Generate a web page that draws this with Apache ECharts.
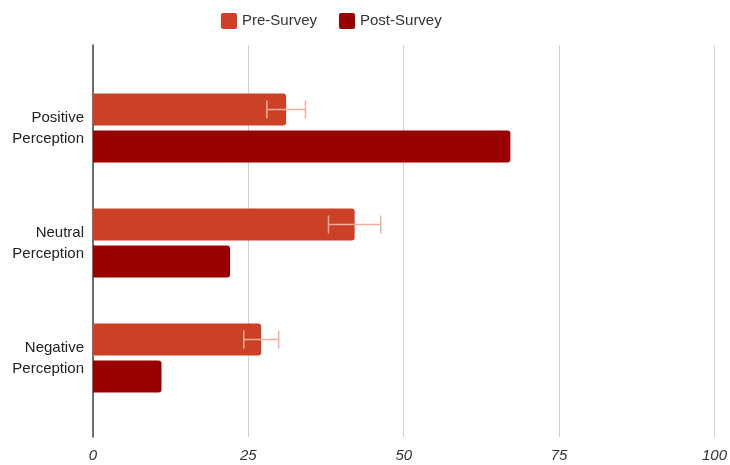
<!DOCTYPE html>
<html><head><meta charset="utf-8">
<script src="https://cdn.jsdelivr.net/npm/echarts@6/dist/echarts.min.js"></script>
<style>html,body{margin:0;padding:0;background:#fff}#c{width:730px;height:465px}</style>
</head><body><div id="c"></div>
<script>
const categories = ['Positive\nPerception', 'Neutral\nPerception', 'Negative\nPerception'];
const preSurvey = [31, 42, 27];
const postSurvey = [67, 22, 11];
const preError = [3.1, 4.2, 2.8];
const xTicks = [0, 25, 50, 75, 100];

const FONT = 'Liberation Sans, Arial, sans-serif';
const chart = echarts.init(document.getElementById('c'), null, {renderer: 'canvas'});
const errData = preSurvey.map((v, i) => [v, i, preError[i]]);
chart.setOption({
  animation: false,
  legend: {
    top: 8, left: 216, itemWidth: 16, itemHeight: 16, itemGap: 22,
    icon: 'path://M2,0 L14,0 Q16,0 16,2 L16,14 Q16,16 14,16 L2,16 Q0,16 0,14 L0,2 Q0,0 2,0 Z',
    textStyle: {fontFamily: FONT, fontSize: 15, color: '#333'},
    data: ['Pre-Survey', 'Post-Survey']
  },
  grid: [
    {left: 93, right: 14, top: 45, bottom: 28},
    {left: 93, right: 14, top: 70.5, bottom: 49.5}
  ],
  xAxis: [
    {gridIndex: 0, type: 'value', min: 0, max: 100, interval: 25,
     axisLine: {show: false}, axisTick: {show: false},
     splitLine: {show: true, lineStyle: {color: '#d0d0d0', width: 1}},
     axisLabel: {fontFamily: FONT, fontSize: 15, fontStyle: 'italic', color: '#333', margin: 11,
       formatter: v => xTicks.includes(v) ? String(v) : ''}},
    {gridIndex: 1, type: 'value', min: 0, max: 100, show: false}
  ],
  yAxis: [
    {gridIndex: 0, type: 'value', min: 0, max: 1, splitLine: {show: false},
     axisLabel: {show: false}, axisTick: {show: false},
     axisLine: {show: true, lineStyle: {color: '#444', width: 1.5}}},
    {gridIndex: 1, type: 'category', inverse: true, data: categories,
     axisLine: {show: false}, axisTick: {show: false},
     axisLabel: {fontFamily: FONT, fontSize: 15, color: '#222', margin: 9, lineHeight: 21, align: 'right'}}
  ],
  series: [
    {name: 'Pre-Survey', type: 'bar', xAxisIndex: 1, yAxisIndex: 1, data: preSurvey,
     barWidth: 32, barGap: '16%', itemStyle: {color: '#cc4125', borderRadius: [0, 3, 3, 0]}},
    {name: 'Post-Survey', type: 'bar', xAxisIndex: 1, yAxisIndex: 1, data: postSurvey,
     barWidth: 32, itemStyle: {color: '#990000', borderRadius: [0, 3, 3, 0]}},
    {type: 'custom', xAxisIndex: 1, yAxisIndex: 1, data: errData, encode: {x: 0, y: 1}, z: 10,
     renderItem: function (params, api) {
       const v = api.value(0), c = api.value(1), e = api.value(2);
       const lo = api.coord([v - e, c]);
       const hi = api.coord([v + e, c]);
       const y = lo[1] - 18.5;
       const st = {stroke: '#f2ad9f', lineWidth: 1.5};
       return {type: 'group', children: [
         {type: 'line', shape: {x1: lo[0], y1: y, x2: hi[0], y2: y}, style: st},
         {type: 'line', shape: {x1: lo[0], y1: y - 9, x2: lo[0], y2: y + 9}, style: st},
         {type: 'line', shape: {x1: hi[0], y1: y - 9, x2: hi[0], y2: y + 9}, style: st}
       ]};
     }}
  ]
});
</script></body></html>
